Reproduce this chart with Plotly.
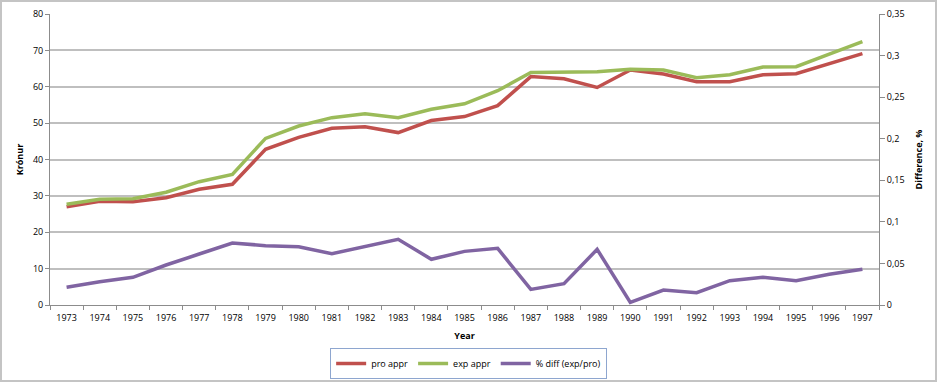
import plotly.graph_objects as go

years = [str(y) for y in range(1973, 1998)]
pro_appr = [27.0, 28.5, 28.4, 29.5, 31.8, 33.2, 42.8, 46.1, 48.6, 49.0, 47.4, 50.7, 51.8, 54.8,
            62.8, 62.2, 59.8, 64.6, 63.5, 61.4, 61.4, 63.3, 63.6, 66.4, 69.1]
exp_appr = [27.7, 29.1, 29.2, 31.0, 33.9, 35.9, 45.8, 49.2, 51.5, 52.6, 51.5, 53.8, 55.3, 58.9,
            63.9, 63.9, 64.1, 64.8, 64.6, 62.5, 63.3, 65.4, 65.5, 69.0, 72.4]
pct_diff = [0.0213, 0.028, 0.0333, 0.0481, 0.0613, 0.0746, 0.0714, 0.0701, 0.0617, 0.0701,
            0.079, 0.055, 0.0645, 0.0681, 0.0188, 0.0257, 0.0669, 0.0032, 0.018, 0.0148,
            0.0293, 0.0333, 0.0293, 0.0369, 0.0429]

left_ticks = [0, 10, 20, 30, 40, 50, 60, 70, 80]
right_tickvals = [0, 0.05, 0.1, 0.15, 0.2, 0.25, 0.3, 0.35]
right_ticktext = ["0", "0,05", "0,1", "0,15", "0,2", "0,25", "0,3", "0,35"]

FONT = "Open Sans"
AX = "#8c8c8c"
fig = go.Figure()
fig.add_trace(go.Scatter(x=years, y=pro_appr, name="pro appr", mode="lines",
                         line=dict(color="#c0504d", width=3.5)))
fig.add_trace(go.Scatter(x=years, y=exp_appr, name="exp appr", mode="lines",
                         line=dict(color="#9bbb59", width=3.5)))
fig.add_trace(go.Scatter(x=years, y=pct_diff, name="% diff (exp/pro)", mode="lines",
                         line=dict(color="#8064a2", width=3.5), yaxis="y2"))

fig.update_layout(
    width=937, height=383,
    margin=dict(l=50, r=58, t=14, b=78, autoexpand=False),
    paper_bgcolor="white", plot_bgcolor="white",
    font=dict(family=FONT, size=9, color="#000000"),
    showlegend=True,
    legend=dict(orientation="h", x=0.505, xanchor="center", y=-0.148, yanchor="top",
                bordercolor="#8ea6cf", borderwidth=1, font=dict(size=9),
                itemwidth=30, tracegroupgap=0),
    xaxis=dict(type="category", tickson="boundaries", ticks="outside", ticklen=4,
               tickcolor=AX, showline=True, linecolor=AX, linewidth=1,
               showgrid=False, range=[-0.5, 24.5], automargin=False, ticklabelstandoff=4,
               title=dict(text="<b>Year</b>", standoff=9, font=dict(size=9))),
    yaxis=dict(range=[0, 80], tickvals=left_ticks, showgrid=True, gridcolor="#bfbfbf",
               gridwidth=1.5, showline=True, linecolor=AX, ticks="outside",
               ticklen=4, tickcolor=AX, zeroline=False, automargin=False,
               title=dict(text="<b>Krónur</b>", standoff=7, font=dict(size=9))),
    yaxis2=dict(range=[0, 0.35], overlaying="y", side="right", tickvals=right_tickvals,
                ticktext=right_ticktext, showgrid=False, showline=True, linecolor=AX,
                ticks="outside", ticklen=5, tickcolor=AX, zeroline=False,
                automargin=False,
                title=dict(text="<b>Difference, %</b>", standoff=12, font=dict(size=9))),
    shapes=[dict(type="rect", xref="paper", yref="paper",
                 x0=-49 / 829, x1=(936 - 50) / 829, y0=(305 - 381) / 291, y1=(305 - 1) / 291,
                 line=dict(color="#c4c4c4", width=2), fillcolor="rgba(0,0,0,0)", layer="below")],
)

fig.write_html("out.html", config={"displayModeBar": False},
               post_script="document.body.style.margin='0';document.body.style.overflow='hidden';")
